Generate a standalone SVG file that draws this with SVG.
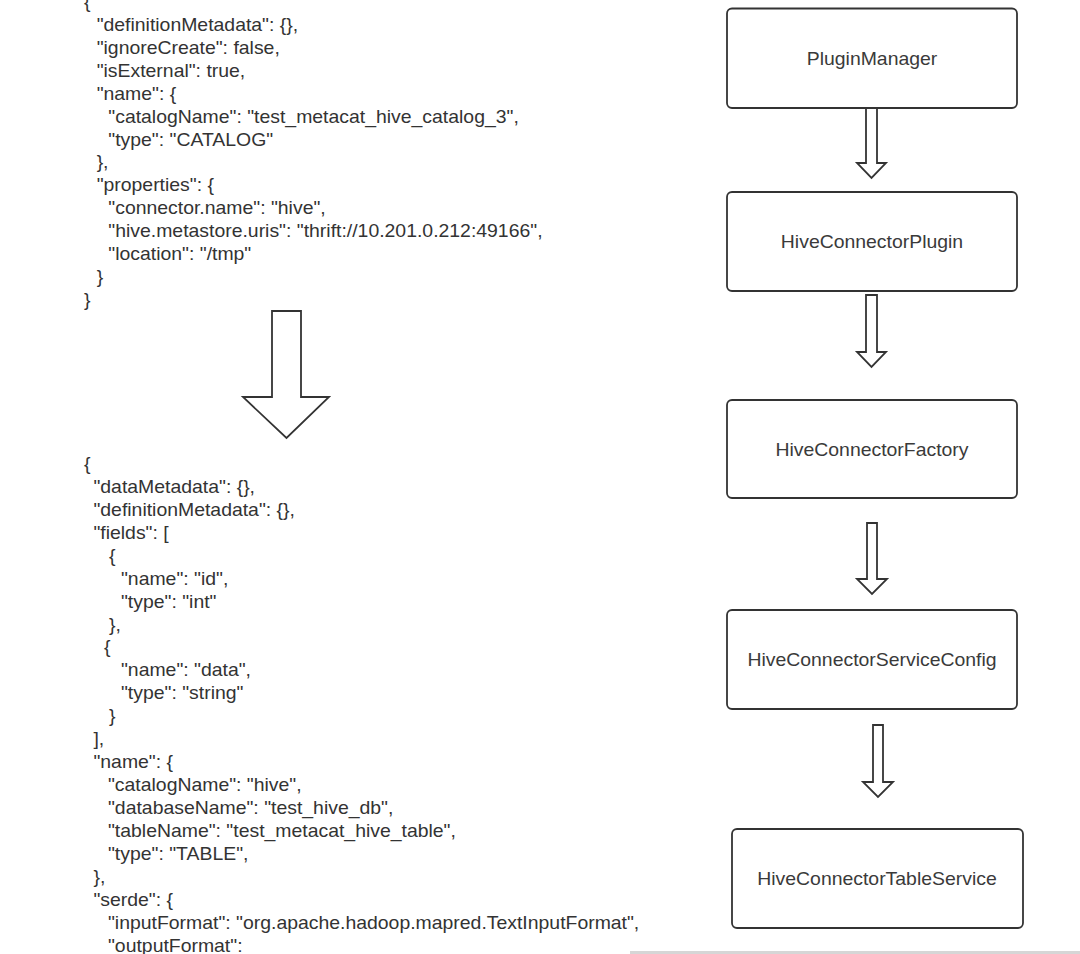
<svg xmlns="http://www.w3.org/2000/svg" width="1080" height="954" viewBox="0 0 1080 954">
<style>
.code{font-family:"Liberation Sans",Arial,Helvetica,sans-serif;font-size:17.5px;fill:#333;}
.lbl{font-family:"Liberation Sans",Arial,Helvetica,sans-serif;font-size:17.5px;fill:#3a3a3a;text-anchor:middle;}
.box{fill:#fff;stroke:#333;stroke-width:1.8;}
.barrow{fill:#fff;stroke:#333;stroke-width:1.8;stroke-linejoin:miter;}
</style>
<rect width="1080" height="954" fill="#fff"/>
<g id="json-catalog" class="code" transform="translate(84,0) scale(1.11,1)">
<text x="0" y="8.1">{</text>
<text x="11.4" y="31">"definitionMetadata": {},</text>
<text x="11.4" y="53.9">"ignoreCreate": false,</text>
<text x="11.4" y="76.8">"isExternal": true,</text>
<text x="11.4" y="99.8">"name": {</text>
<text x="21.9" y="122.7">"catalogName": "test_metacat_hive_catalog_3",</text>
<text x="21.9" y="145.6">"type": "CATALOG"</text>
<text x="11.4" y="168.5">},</text>
<text x="11.4" y="191.4">"properties": {</text>
<text x="21.9" y="214.4">"connector.name": "hive",</text>
<text x="21.9" y="237.3">"hive.metastore.uris": "thrift://10.201.0.212:49166",</text>
<text x="21.9" y="260.2">"location": "/tmp"</text>
<text x="11.4" y="283.1">}</text>
<text x="0" y="306">}</text>
</g>
<g id="json-table" class="code" transform="translate(84,0) scale(1.11,1)">
<text x="0" y="469.7">{</text>
<text x="8.5" y="492.7">"dataMetadata": {},</text>
<text x="8.5" y="515.7">"definitionMetadata": {},</text>
<text x="8.5" y="538.6">"fields": [</text>
<text x="22.5" y="561.6">{</text>
<text x="33.3" y="584.6">"name": "id",</text>
<text x="33.3" y="607.6">"type": "int"</text>
<text x="22.5" y="630.6">},</text>
<text x="18" y="653.5">{</text>
<text x="33.3" y="676.5">"name": "data",</text>
<text x="33.3" y="699.5">"type": "string"</text>
<text x="22.5" y="722.5">}</text>
<text x="8.5" y="745.5">],</text>
<text x="8.5" y="768.4">"name": {</text>
<text x="21.6" y="791.4">"catalogName": "hive",</text>
<text x="21.6" y="814.4">"databaseName": "test_hive_db",</text>
<text x="21.6" y="837.4">"tableName": "test_metacat_hive_table",</text>
<text x="21.6" y="860.4">"type": "TABLE",</text>
<text x="8.5" y="883.3">},</text>
<text x="8.5" y="906.3">"serde": {</text>
<text x="21.6" y="929.3">"inputFormat": "org.apache.hadoop.mapred.TextInputFormat",</text>
<text x="21.6" y="952.3">"outputFormat":</text>
</g>
<g id="connectors">
<path class="barrow" d="M272,311 H301 V397 H329 L286.5,438 L243,397 H272 Z"/>
<path class="barrow" d="M866,108 V163 H857 L871.5,178 L886,163 H877 V108"/>
<path class="barrow" d="M866,295 V352 H857 L871.5,367 L886,352 H877 V295 Z"/>
<path class="barrow" d="M867,523 V579 H857 L872,594 L887,579 H877 V523 Z"/>
<path class="barrow" d="M873,725 V782 H863 L878,797 L893,782 H883 V725 Z"/>
</g>
<g id="node-pluginmanager">
<rect class="box" x="727" y="8.5" width="290" height="99.5" rx="5"/>
<text class="lbl" transform="translate(872,64.5) scale(1.11,1)">PluginManager</text>
</g>
<g id="node-hiveconnectorplugin">
<rect class="box" x="727" y="192" width="290" height="99" rx="5"/>
<text class="lbl" transform="translate(872,248) scale(1.11,1)">HiveConnectorPlugin</text>
</g>
<g id="node-hiveconnectorfactory">
<rect class="box" x="727" y="400" width="290" height="98" rx="5"/>
<text class="lbl" transform="translate(872,456) scale(1.11,1)">HiveConnectorFactory</text>
</g>
<g id="node-hiveconnectorserviceconfig">
<rect class="box" x="727" y="610" width="290" height="99" rx="5"/>
<text class="lbl" transform="translate(872,666) scale(1.11,1)">HiveConnectorServiceConfig</text>
</g>
<g id="node-hiveconnectortableservice">
<rect class="box" x="732" y="829" width="291" height="99" rx="5"/>
<text class="lbl" transform="translate(877,885) scale(1.11,1)">HiveConnectorTableService</text>
</g>
<rect x="630" y="951" width="450" height="3" fill="#d6d6d6"/>
</svg>
